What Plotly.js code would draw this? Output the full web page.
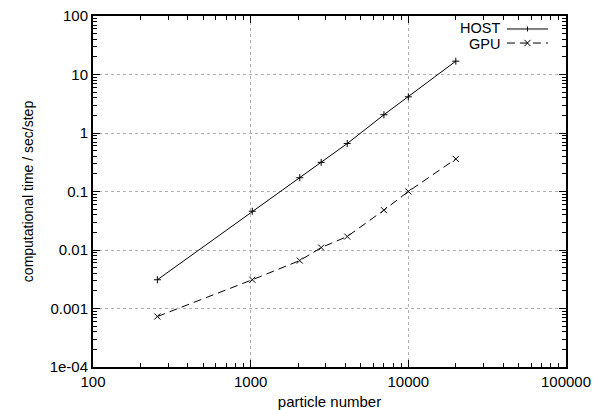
<!DOCTYPE html>
<html>
<head>
<meta charset="utf-8">
<script src="https://cdn.plot.ly/plotly-3.0.1.min.js"></script>
<style>html,body{margin:0;padding:0;background:#fff;}#chart{width:593px;height:410px;}</style>
</head>
<body>
<div id="chart"></div>
<script>
const particles = [256, 1024, 2048, 2800, 4096, 7000, 10000, 20000];
const hostTime = [0.0031, 0.046, 0.172, 0.315, 0.66, 2.05, 4.15, 16.9];
const gpuTime = [0.00073, 0.0031, 0.0066, 0.011, 0.017, 0.048, 0.1, 0.36];
const xTickVals = [100, 1000, 10000, 100000];
const xTickText = ['100', '1000', '10000', '100000'];
const yTickVals = [1e-4, 0.001, 0.01, 0.1, 1, 10, 100];
const yTickText = ['1e-04', '0.001', '0.01', '0.1', '1', '10', '100'];
const seriesNames = ['HOST', 'GPU'];

function minorVals(lo, hi) {
  const v = [];
  for (let e = lo; e < hi; e++) for (let k = 2; k <= 9; k++) v.push(k * Math.pow(10, e));
  return v;
}

const font = {family: 'Liberation Sans, Arial, sans-serif', size: 15, color: '#000'};

const traces = [
  {x: particles, y: hostTime, name: seriesNames[0], type: 'scatter', mode: 'lines+markers',
   line: {color: '#000', width: 1}, marker: {symbol: 'cross-thin', size: 5, line: {color: '#000', width: 1}}},
  {x: particles, y: gpuTime, name: seriesNames[1], type: 'scatter', mode: 'lines+markers',
   line: {color: '#000', width: 1, dash: '8px,5px'}, marker: {symbol: 'x-thin', size: 6, line: {color: '#000', width: 1}}}
];

const layout = {
  width: 593, height: 410,
  margin: {l: 93, r: 27, t: 16, b: 43},
  paper_bgcolor: '#fff', plot_bgcolor: '#fff',
  font: font,
  showlegend: false,
  xaxis: {
    type: 'log', range: [2, 5], tickmode: 'array', tickvals: xTickVals, ticktext: xTickText,
    ticks: 'inside', ticklen: 7, tickwidth: 1, tickcolor: '#000',
    showline: true, linecolor: '#000', linewidth: 2, mirror: 'ticks',
    showgrid: true, gridcolor: '#b0b0b0', griddash: 'dot', gridwidth: 1,
    zeroline: false, tickfont: {size: 15},
    title: {text: 'particle number', font: {size: 15}, standoff: 9}
  },
  yaxis: {
    type: 'log', range: [-4, 2], tickmode: 'array', tickvals: yTickVals, ticktext: yTickText,
    ticks: 'inside', ticklen: 7, tickwidth: 1, tickcolor: '#000',
    showline: true, linecolor: '#000', linewidth: 2, mirror: 'ticks',
    showgrid: true, gridcolor: '#b0b0b0', griddash: 'dot', gridwidth: 1,
    zeroline: false, tickfont: {size: 15},
    title: {text: 'computational time / sec/step', font: {size: 14}, standoff: 13}
  },
  xaxis2: {
    type: 'log', range: [2, 5], overlaying: 'x', tickmode: 'array', tickvals: minorVals(2, 5),
    showticklabels: false, ticks: 'inside', ticklen: 4, tickcolor: '#000', tickwidth: 1,
    mirror: 'ticks', showline: false, showgrid: false, zeroline: false, matches: 'x'
  },
  yaxis2: {
    type: 'log', range: [-4, 2], overlaying: 'y', tickmode: 'array', tickvals: minorVals(-4, 2),
    showticklabels: false, ticks: 'inside', ticklen: 4, tickcolor: '#000', tickwidth: 1,
    mirror: 'ticks', showline: false, showgrid: false, zeroline: false, matches: 'y'
  },
  annotations: [
    {xref: 'paper', yref: 'paper', x: 0.862, y: 0.965, xanchor: 'right', yanchor: 'middle',
     text: seriesNames[0], showarrow: false, font: {size: 14.5}, borderpad: 0},
    {xref: 'paper', yref: 'paper', x: 0.862, y: 0.921, xanchor: 'right', yanchor: 'middle',
     text: seriesNames[1], showarrow: false, font: {size: 14.5}, borderpad: 0}
  ],
  shapes: [
    {type: 'line', xref: 'paper', yref: 'paper', x0: 0.875, x1: 0.962, y0: 0.963, y1: 0.963, line: {color: '#000', width: 1}},
    {type: 'line', xref: 'paper', yref: 'paper', x0: 0.9186, x1: 0.9186, y0: 0.956, y1: 0.970, line: {color: '#000', width: 1}},
    {type: 'line', xref: 'paper', yref: 'paper', x0: 0.875, x1: 0.962, y0: 0.923, y1: 0.923, line: {color: '#000', width: 1, dash: '8px,5px'}},
    {type: 'line', xref: 'paper', yref: 'paper', x0: 0.9123, x1: 0.9249, y0: 0.914, y1: 0.932, line: {color: '#000', width: 1}},
    {type: 'line', xref: 'paper', yref: 'paper', x0: 0.9123, x1: 0.9249, y0: 0.932, y1: 0.914, line: {color: '#000', width: 1}}
  ]
};

traces.push({x: [100], y: [1], xaxis: 'x2', yaxis: 'y2', mode: 'markers', marker: {opacity: 0}, hoverinfo: 'skip', showlegend: false});

Plotly.newPlot('chart', traces, layout, {displayModeBar: false, staticPlot: true});
</script>
</body>
</html>
